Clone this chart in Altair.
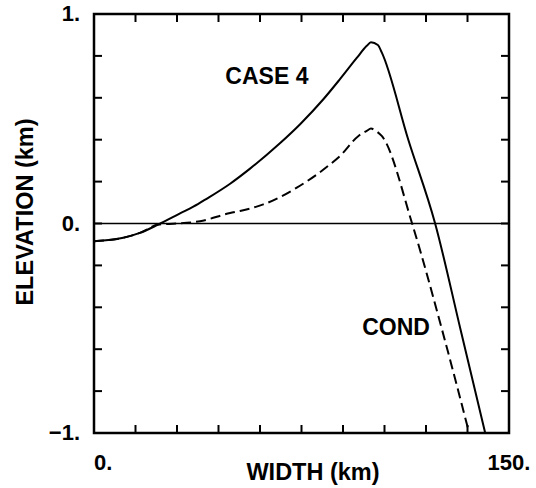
import altair as alt
import pandas as pd

# ---- data ----
case4_x = [0, 10.6, 16.6, 23.2, 31.1, 35.9, 40.7, 49.2, 56.4, 67.2, 74.5, 82.9, 88.9, 94.9,
           98.6, 100.1, 102.6, 104.0, 113.6, 123.3, 132.5, 141.4]
case4_y = [-0.085, -0.068, -0.045, -0.005, 0.048, 0.08, 0.118, 0.19, 0.262, 0.383, 0.474, 0.593,
           0.689, 0.789, 0.848, 0.865, 0.852, 0.817, 0.40, 0.0, -0.507, -1.0]

cond_x = [0, 10.6, 16.6, 23.2, 29.9, 38.3, 49.2, 52.8, 61.2, 73.3, 85.3, 88.9, 95.6, 98.6,
          100.1, 102.6, 104.0, 115.2, 125.8, 135.6]
cond_y = [-0.085, -0.068, -0.045, -0.005, 0.0, 0.011, 0.05, 0.06, 0.091, 0.171, 0.282, 0.322,
          0.418, 0.442, 0.453, 0.435, 0.418, -0.01, -0.507, -1.0]

ann_text = ["CASE 4", "COND"]
ann_x = [62.5, 109.2]
ann_y = [0.665, -0.531]

x_ticks = [0, 15, 30, 45, 60, 75, 90, 105, 120, 135, 150]
y_ticks = [-1.0, -0.8, -0.6, -0.4, -0.2, 0.0, 0.2, 0.4, 0.6, 0.8, 1.0]
x_label_vals = [0, 150]
x_label_txt = ["0.", "150."]
y_label_vals = [1, 0, -1]
y_label_txt = ["1.", "0.", "\u22121."]
x_title = ["WIDTH (km)"]
y_title = ["ELEVATION (km)"]

zero_y = [0.0]

# ---- build tables ----
df = pd.DataFrame({
    "w": case4_x + cond_x,
    "e": case4_y + cond_y,
    "s": ["CASE 4"] * len(case4_x) + ["COND"] * len(cond_x),
})
ann = pd.DataFrame({"t": ann_text, "w": ann_x, "e": ann_y})
zero = pd.DataFrame({"e": zero_y})
xt = pd.DataFrame({"v": x_ticks})
yt = pd.DataFrame({"v": y_ticks})
xl = pd.DataFrame({"v": x_label_vals, "t": x_label_txt})
yl = pd.DataFrame({"v": y_label_vals, "t": y_label_txt})
xti = pd.DataFrame({"t": x_title})
yti = pd.DataFrame({"t": y_title})

W, H, T = 415, 419, 8
FONT = "Liberation Sans"

xs = alt.Scale(domain=[0, 150], nice=False, zero=False)
ys = alt.Scale(domain=[-1, 1], nice=False, zero=False)


def X(field):
    return alt.X(field, scale=xs, axis=None)


def Y(field):
    return alt.Y(field, scale=ys, axis=None)


txt = dict(font=FONT, fontWeight="bold", color="black")

base = alt.Chart(df)

case_line = base.transform_filter(alt.datum.s == "CASE 4").mark_line(
    color="black", strokeWidth=2, interpolate="monotone"
).encode(x=X("w:Q"), y=Y("e:Q"))

zero_line = alt.Chart(zero).mark_rule(color="black", strokeWidth=1.4).encode(
    y=Y("e:Q"), x=alt.value(0), x2=alt.value(W),
)

# inward ticks on all four sides, drawn as tick marks through the scales
vt = dict(color="black", thickness=2, size=T, orient="vertical", opacity=1)
ht = dict(color="black", thickness=2, size=T, orient="horizontal", opacity=1)
tick_bottom = alt.Chart(xt).mark_tick(**vt).encode(x=X("v:Q"), y=alt.value(H - T / 2))
tick_top = alt.Chart(xt).mark_tick(**vt).encode(x=X("v:Q"), y=alt.value(T / 2))
tick_left = alt.Chart(yt).mark_tick(**ht).encode(y=Y("v:Q"), x=alt.value(T / 2))
tick_right = alt.Chart(yt).mark_tick(**ht).encode(y=Y("v:Q"), x=alt.value(W - T / 2))

cond_line = base.transform_filter(alt.datum.s == "COND").mark_line(
    color="black", strokeWidth=2, strokeDash=[10, 5], interpolate="monotone"
).encode(x=X("w:Q"), y=Y("e:Q"))

labels = alt.Chart(ann).mark_text(
    fontSize=23, align="center", baseline="alphabetic", **txt
).encode(x=X("w:Q"), y=Y("e:Q"), text="t:N")

# tick labels
xlab_first = alt.Chart(xl).transform_filter(alt.datum.v == 0).mark_text(
    fontSize=22, align="left", baseline="alphabetic", **txt
).encode(x=X("v:Q"), y=alt.value(H + 37), text="t:N")
xlab_rest = alt.Chart(xl).transform_filter(alt.datum.v != 0).mark_text(
    fontSize=22, align="center", baseline="alphabetic", **txt
).encode(x=X("v:Q"), y=alt.value(H + 37), text="t:N")
ylab = alt.Chart(yl).mark_text(
    fontSize=22, align="right", baseline="middle", **txt
).encode(y=Y("v:Q"), x=alt.value(-14), text="t:N")

# axis titles
xtitle = alt.Chart(xti).mark_text(
    fontSize=23.5, align="center", baseline="alphabetic", **txt
).encode(x=alt.value(219), y=alt.value(H + 47), text="t:N")
ytitle = alt.Chart(yti).mark_text(
    fontSize=23.5, align="center", baseline="alphabetic", angle=270, **txt
).encode(x=alt.value(-61), y=alt.value(198), text="t:N")

chart = alt.layer(
    case_line, zero_line, cond_line, labels,
    xlab_first, xlab_rest, ylab, xtitle, ytitle,
    tick_bottom, tick_top, tick_left, tick_right,
).properties(
    width=W, height=H,
    autosize=alt.AutoSizeParams(type="none"),
    padding={"left": 94, "top": 14, "right": 27, "bottom": 55},
    background="white",
).configure_view(stroke="black", strokeWidth=2.5)

chart.save("out.html", embed_options={"renderer": "svg", "actions": False})
